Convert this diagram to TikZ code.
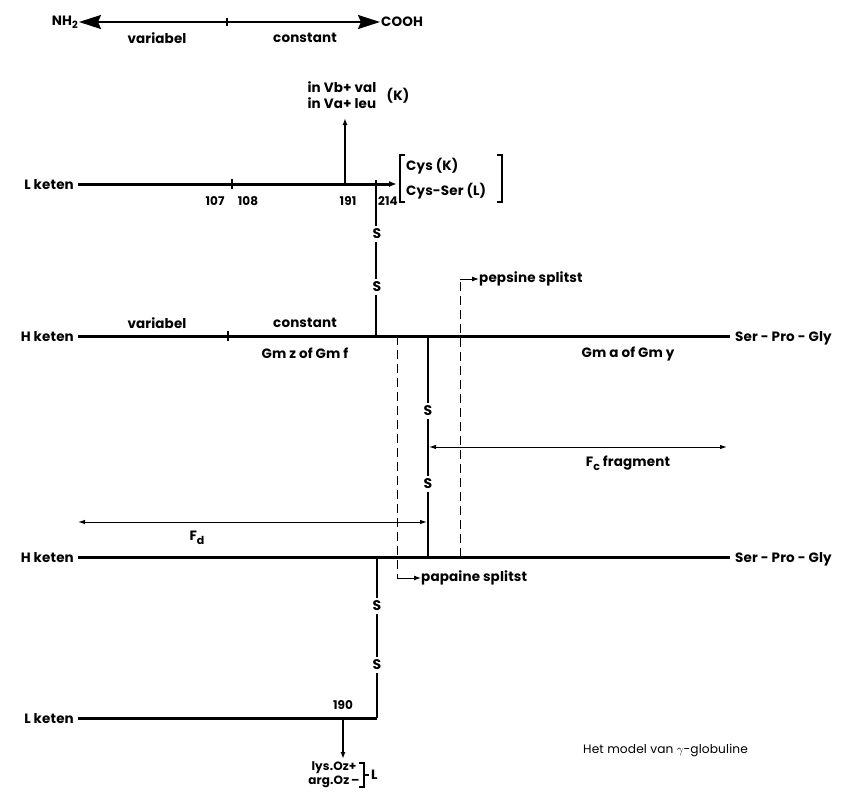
\documentclass[tikz,border=0pt]{standalone}
\usepackage{fontspec}
\setmainfont{Poppins}[LetterSpace=1]
\usetikzlibrary{arrows.meta}
\begin{document}
\begin{tikzpicture}[x=1pt,y=-1pt,
  lbl/.style={inner sep=0pt, font=\fontsize{13.5}{16.5}\selectfont\bfseries},
  num/.style={inner sep=0pt, font=\fontsize{12}{14}\selectfont\bfseries},
  chain/.style={line width=3pt},
  bond/.style={line width=1.4pt},
  thickbond/.style={line width=2.6pt},
  ess/.style={inner sep=2.5pt, font=\fontsize{14}{17}\selectfont\bfseries},
  dsh/.style={line width=1pt, dash pattern=on 9pt off 5pt},
  sm/.style={-{Latex[length=7pt,width=5pt]}},
  dbl/.style={line width=1pt,{Latex[length=7pt,width=4.5pt]}-{Latex[length=7pt,width=4.5pt]}},
  big/.style={line width=2pt,{Stealth[length=22pt,width=14pt,inset=3pt]}-{Stealth[length=22pt,width=14pt,inset=3pt]}},
  tick/.style={line width=1.2pt}]
\useasboundingbox (0,0) rectangle (845,792);

% top scale
\node[lbl, anchor=east] (nh2) at (78,22) {NH{\raisebox{-0.45ex}{\fontsize{10}{10}\selectfont 2}}};
\node[lbl, anchor=west] (cooh) at (381,22) {COOH};
\draw[big, shorten <=1pt, shorten >=1pt] (nh2.east) -- (cooh.west);
\coordinate (t0) at (227,22);
\draw[tick] ([yshift=-4pt]t0) -- ([yshift=4pt]t0);
\node[lbl] (var0) at (157,38) {variabel};
\node[lbl] (con0) at (305,38) {constant};

% upper L keten
\node[lbl, anchor=base east] (lk1) at (74,189) {L keten};
\coordinate (lk1s) at (78,184);
\coordinate (lk1e) at (397,184);
\draw[chain, -{Latex[length=8pt,width=6pt]}] (lk1s) -- (lk1e);
\coordinate (t1) at (232,184);
\draw[tick] ([yshift=-5pt]t1) -- ([yshift=5pt]t1);
\node[num] (n107) at (215,201) {107};
\node[num] (n108) at (248,201) {108};
\node[num] (n191) at (348,201) {191};
\node[num] (n214) at (388,201) {214};
\coordinate (up0) at (345,184);
\coordinate (up1) at (345,118);
\node[lbl, align=left] (inv) at (342,95) {in Vb+ val\\in Va+ leu};
\node[lbl] (k1) at (398,96) {(K)};
\draw[bond, sm] (up0) -- (up1);
% bracket Cys
\node[lbl, anchor=west] (cys1) at (406,166) {Cys (K)};
\node[lbl, anchor=west] (cys2) at (406,191) {Cys-Ser (L)};
\draw[line width=1.2pt] (405,155) -- (400,155) -- (400,202) -- (405,202);
\draw[line width=1.2pt] (497,155) -- (502,155) -- (502,202) -- (497,202);

% S-S between L and H (upper)
\node[ess] (s1) at (377,234) {S};
\node[ess] (s2) at (377,287) {S};
\coordinate (b1top) at (376,180);
\coordinate (b1bot) at (376,336);
\draw[bond] (b1top) -- (s1.north -| b1top);
\draw[bond] (s1.south -| b1top) -- (s2.north -| b1top);
\draw[bond] (s2.south -| b1top) -- (b1bot);

% H keten 1
\node[lbl, anchor=base east] (hk1) at (74,341) {H keten};
\coordinate (hk1s) at (78,336);
\coordinate (hk1e) at (730,336);
\draw[chain] (hk1s) -- (hk1e);
\node[lbl, anchor=base west] (spg1) at (735,341) {Ser - Pro - Gly};
\coordinate (t2) at (228,336);
\draw[tick] ([yshift=-5pt]t2) -- ([yshift=5pt]t2);
\node[lbl] (var1) at (157,323) {variabel};
\node[lbl] (con1) at (305,323) {constant};
\node[lbl] (gmz) at (305,353) {Gm z of Gm f};
\node[lbl] (gma) at (628,354) {Gm a of Gm y};

% pepsine
\coordinate (pep0) at (460,557);
\coordinate (pep1) at (460,279);
\node[lbl, anchor=west] (pep) at (479,279) {pepsine splitst};
\draw[dsh] (pep0) -- (pep1);
\draw[line width=1pt, sm] (pep1) -- (pep.west);

% papaine
\coordinate (pap0) at (397,336);
\coordinate (pap1) at (397,578);
\node[lbl, anchor=west] (pap) at (421,578) {papaine splitst};
\draw[dsh] (pap0) -- (pap1);
\draw[line width=1pt, sm] (pap1) -- (pap.west);

% S-S between the two H chains
\node[ess] (s3) at (428,411) {S};
\node[ess] (s4) at (428,484) {S};
\coordinate (b2top) at (428,336);
\coordinate (b2bot) at (428,557);
\draw[thickbond] (b2top) -- (s3.north -| b2top);
\draw[thickbond] (s3.south -| b2top) -- (s4.north -| b2top);
\draw[thickbond] (s4.south -| b2top) -- (b2bot);

% Fc fragment
\coordinate (fc0) at (429,447);
\coordinate (fc1) at (727,447);
\draw[dbl] (fc0) -- (fc1);
\node[lbl] (fc) at (628,463) {F{\raisebox{-0.5ex}{\fontsize{11}{11}\selectfont\bfseries c}} fragment};

% Fd
\coordinate (fd0) at (78,522);
\coordinate (fd1) at (427,522);
\draw[dbl] (fd0) -- (fd1);
\node[lbl] (fd) at (197,538) {F{\raisebox{-0.5ex}{\fontsize{11}{11}\selectfont\bfseries d}}};

% H keten 2
\node[lbl, anchor=base east] (hk2) at (74,562) {H keten};
\coordinate (hk2s) at (78,557);
\coordinate (hk2e) at (730,557);
\draw[chain] (hk2s) -- (hk2e);
\node[lbl, anchor=base west] (spg2) at (735,562) {Ser - Pro - Gly};

% S-S between H and L (lower)
\node[ess] (s5) at (377,606) {S};
\node[ess] (s6) at (377,665) {S};
\coordinate (b3top) at (377,557);
\coordinate (b3bot) at (377,718);
\draw[bond] (b3top) -- (s5.north -| b3top);
\draw[bond] (s5.south -| b3top) -- (s6.north -| b3top);
\draw[bond] (s6.south -| b3top) -- (b3bot);

% lower L keten
\node[lbl, anchor=base east] (lk2) at (74,723) {L keten};
\coordinate (lk2s) at (78,718);
\draw[chain] (lk2s) -- (b3bot);
\node[num] (n190) at (343,705) {190};
\coordinate (dn0) at (343,718);
\coordinate (dn1) at (343,759);
\node[num, align=center] (lys) at (334,775) {lys.Oz+\\arg.Oz\,–};
\draw[bond, sm] (dn0) -- (dn1);
\draw[line width=1.2pt] (359,763) -- (364,763) -- (364,787) -- (359,787);
\draw[line width=1.2pt] (364,775) -- (369,775);
\node[lbl, anchor=west] (lL) at (371,775) {L};

\node[inner sep=0pt, anchor=west, font=\fontsize{12.2}{15}\selectfont] (title) at (583,750) {Het model van $\gamma$-globuline};
\end{tikzpicture}
\end{document}
